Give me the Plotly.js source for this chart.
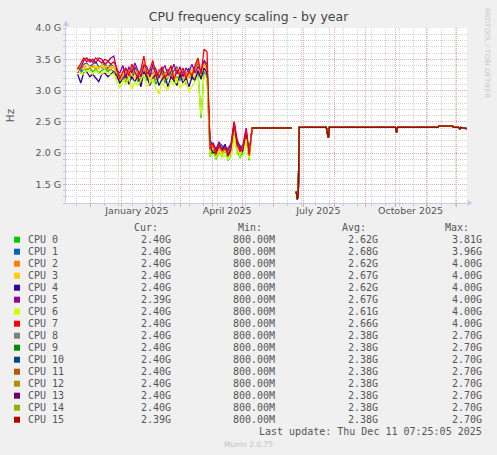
<!DOCTYPE html>
<html><head><meta charset="utf-8">
<script src="https://cdn.plot.ly/plotly-3.0.1.min.js"></script>
<style>html,body{margin:0;padding:0;background:#f0f0f0;}#chart{width:497px;height:455px;}</style>
</head><body><div id="chart"></div>
<script>
// ---------------- DATA ----------------
const cpuNames = ['CPU 0','CPU 1','CPU 2','CPU 3','CPU 4','CPU 5','CPU 6','CPU 7',
                  'CPU 8','CPU 9','CPU 10','CPU 11','CPU 12','CPU 13','CPU 14','CPU 15'];
const cpuColors = ['#00CC00','#0066B3','#FF8000','#FFCC00','#330099','#990099','#CCFF00','#FF0000',
                   '#808080','#008F00','#00487D','#B35A00','#B38F00','#6B006B','#8FB300','#B30000'];

// legend statistics
const curVals = ['2.40G','2.40G','2.40G','2.40G','2.40G','2.39G','2.40G','2.40G',
                 '2.40G','2.40G','2.40G','2.40G','2.40G','2.40G','2.40G','2.39G'];
const minVals = ['800.00M','800.00M','800.00M','800.00M','800.00M','800.00M','800.00M','800.00M',
                 '800.00M','800.00M','800.00M','800.00M','800.00M','800.00M','800.00M','800.00M'];
const avgVals = ['2.62G','2.68G','2.62G','2.67G','2.62G','2.67G','2.61G','2.66G',
                 '2.38G','2.38G','2.38G','2.38G','2.38G','2.38G','2.38G','2.38G'];
const maxVals = ['3.81G','3.96G','4.00G','4.00G','4.00G','4.00G','4.00G','4.00G',
                 '2.70G','2.70G','2.70G','2.70G','2.70G','2.70G','2.70G','2.70G'];

// x axis quarter labels
const quarterTickVals = ['2025-01-16','2025-04-16','2025-07-16','2025-10-16'];
const quarterTickText = ['January 2025','April 2025','July 2025','October 2025'];

// early period (CPUs 0-7 only), values in GHz
const earlyDates = [
 '2024-11-18','2024-11-21','2024-11-24','2024-11-27','2024-11-30',
 '2024-12-03','2024-12-06','2024-12-09','2024-12-12','2024-12-15',
 '2024-12-18','2024-12-21','2024-12-24','2024-12-27','2024-12-30',
 '2025-01-02','2025-01-05','2025-01-08','2025-01-11','2025-01-14',
 '2025-01-17','2025-01-20','2025-01-23','2025-01-26','2025-01-29',
 '2025-02-01','2025-02-04','2025-02-07','2025-02-10','2025-02-13',
 '2025-02-16','2025-02-19','2025-02-22','2025-02-25','2025-02-28',
 '2025-03-03','2025-03-06','2025-03-09','2025-03-12','2025-03-15',
 '2025-03-18','2025-03-21','2025-03-24','2025-03-27','2025-03-30',
 '2025-04-02','2025-04-05','2025-04-08','2025-04-11','2025-04-14',
 '2025-04-17','2025-04-20','2025-04-23','2025-04-26','2025-04-29',
 '2025-05-02','2025-05-05','2025-05-08'];

const cpu0Early = [3.38,3.28,3.34,3.32,3.36,3.30,3.34,3.28,3.32,3.36,3.30,3.34,3.30,3.20,3.12,
 3.24,3.14,3.26,3.18,3.30, 3.14,3.20,3.32,3.16,3.24, 3.28,3.10,3.22,3.30,3.12,
 3.20,3.28,3.14,3.22,3.16, 3.28,3.10,3.26,3.18,3.22, 3.30,2.56,3.30,3.24,
 1.94,2.06,1.90,2.02,1.96,2.08,1.88,1.96,2.30,2.02,1.92,2.04,2.24,1.88];
const cpu1Early = [3.36,3.30,3.42,3.44,3.38,3.42,3.46,3.38,3.40,3.44,3.36,3.42,3.38,3.28,3.24,
 3.22,3.34,3.30,3.20,3.38, 3.26,3.30,3.42,3.20,3.32, 3.36,3.28,3.24,3.36,3.26,
 3.34,3.22,3.32,3.38,3.20, 3.30,3.26,3.36,3.20,3.34, 3.44,3.22,3.46,3.36,
 2.22,2.10,2.04,2.16,2.12,2.02,2.08,2.14,2.44,2.18,2.12,2.06,2.36,2.00];
const cpu2Early = [3.32,3.38,3.40,3.34,3.36,3.40,3.34,3.38,3.36,3.40,3.32,3.38,3.36,3.28,3.18,
 3.24,3.30,3.18,3.36,3.26, 3.18,3.28,3.44,3.20,3.28, 3.30,3.16,3.34,3.24,3.18,
 3.30,3.24,3.16,3.36,3.22, 3.18,3.30,3.20,3.28,3.36, 3.48,3.20,3.44,3.34,
 2.04,2.12,1.96,2.06,2.02,2.12,1.94,2.02,2.46,2.08,2.04,2.10,2.30,1.94];
const cpu3Early = [3.40,3.36,3.34,3.42,3.38,3.36,3.40,3.34,3.42,3.36,3.40,3.34,3.40,3.22,3.14,
 3.28,3.16,3.30,3.24,3.20, 3.34,3.12,3.38,3.30,3.16, 3.26,3.20,3.32,3.14,3.28,
 3.20,3.38,3.22,3.14,3.32, 3.26,3.12,3.24,3.34,3.18, 3.40,3.24,3.42,3.30,
 2.00,2.08,2.00,2.14,1.96,2.04,1.98,2.08,2.40,2.14,1.98,2.12,2.32,1.92];
const cpu4Early = [3.26,3.12,3.28,3.30,3.22,3.26,3.20,3.14,3.26,3.28,3.22,3.26,3.30,3.24,3.12,
 3.18,3.26,3.10,3.22,3.14, 3.24,3.06,3.30,3.22,3.08, 3.20,3.26,3.08,3.18,3.24,
 3.06,3.22,3.16,3.08,3.26, 3.12,3.20,3.06,3.22,3.16, 3.32,3.18,3.36,3.28,
 2.10,2.00,2.02,2.12,2.06,2.14,1.96,2.06,2.48,2.12,2.08,2.02,2.34,1.98];
const cpu5Early = [3.28,3.36,3.48,3.52,3.46,3.50,3.44,3.52,3.50,3.42,3.46,3.52,3.55,3.32,3.28,
 3.40,3.20,3.38,3.28,3.44, 3.32,3.22,3.40,3.38,3.22, 3.42,3.34,3.20,3.32,3.40,
 3.24,3.30,3.42,3.26,3.38, 3.22,3.36,3.30,3.42,3.28, 3.38,3.32,3.48,3.42,
 2.12,2.16,2.06,2.18,2.04,2.10,2.04,2.16,2.50,2.22,2.06,2.14,2.40,1.98];
const cpu6Early = [3.34,3.28,3.26,3.32,3.30,3.26,3.32,3.28,3.26,3.30,3.28,3.24,3.28,3.14,3.04,
 3.16,3.10,3.22,3.02,3.14, 3.08,3.18,3.26,3.06,3.12, 3.18,3.02,2.94,3.12,3.06,
 3.00,3.16,3.08,3.20,3.04, 3.10,3.16,2.98,3.06,3.12, 3.22,2.60,3.24,3.18,
 1.96,1.98,1.92,2.04,1.92,1.96,1.90,1.94,2.28,1.98,1.94,1.96,2.22,1.90];
const cpu7Early = [3.34,3.44,3.52,3.46,3.50,3.45,3.52,3.48,3.44,3.50,3.47,3.42,3.46,3.36,3.18,
 3.30,3.36,3.24,3.42,3.30, 3.20,3.34,3.55,3.26,3.34, 3.48,3.22,3.30,3.38,3.20,
 3.28,3.40,3.18,3.32,3.26, 3.36,3.20,3.30,3.24,3.40, 3.52,3.26,3.66,3.62,
 2.06,2.14,1.98,2.12,2.04,2.08,1.98,2.10,2.50,2.16,2.02,2.10,2.38,1.96];

// late period (all CPUs read as the same line), values in GHz, null = no data
const lateDates = ['2025-05-11','2025-06-19','2025-06-20','2025-06-24','2025-06-25','2025-06-26',
 '2025-06-27','2025-07-24','2025-07-25','2025-07-26','2025-07-27','2025-09-01','2025-10-01',
 '2025-10-02','2025-10-03','2025-11-12','2025-11-13','2025-11-27','2025-11-28','2025-12-03',
 '2025-12-04','2025-12-05','2025-12-11'];
const lateVals = [2.40,2.40,null,1.38,1.26,1.32,
 2.41,2.41,2.30,2.24,2.41,2.41,2.41,
 2.33,2.41,2.41,2.43,2.43,2.41,2.41,
 2.38,2.41,2.39];

// ---------------- BUILD ----------------
const earlyVals = [cpu0Early,cpu1Early,cpu2Early,cpu3Early,cpu4Early,cpu5Early,cpu6Early,cpu7Early];
earlyVals.forEach((a,i)=>{ if(a.length!==earlyDates.length) throw new Error('cpu'+i+'Early length '+a.length); });
if (lateVals.length!==lateDates.length) throw new Error('late length');

const W=497,H=455,ML=66,MR=30,MT=28,MB=252;
const PW=W-ML-MR, PH=H-MT-MB;
const px=(x)=>(x-ML)/PW, py=(y)=>(H-MB-y)/PH;

const traces=[];
for (let i=0;i<16;i++){
  let x,y;
  if(i<8){ x=earlyDates.concat(lateDates); y=earlyVals[i].concat(lateVals); }
  else { x=lateDates; y=lateVals; }
  traces.push({type:'scatter',mode:'lines',x:x,y:y,name:cpuNames[i],
    line:{color:cpuColors[i],width:1.3},showlegend:false,hoverinfo:'skip',connectgaps:false});
}
traces.push({type:'scatter',mode:'lines',x:[],y:[],xaxis:'x2',yaxis:'y',showlegend:false,hoverinfo:'skip'});

const MONO='DejaVu Sans Mono';
const TXT='#555555';
const ann=[];
function addText(text,xpx,ypx,anchor,extra){
  ann.push(Object.assign({text:text,x:px(xpx),y:py(ypx),xref:'paper',yref:'paper',
    xanchor:anchor,yanchor:'middle',showarrow:false,borderpad:0,
    font:{family:MONO,size:10,color:TXT}},extra||{}));
}
const shapes=[];
const headY=227.7;
addText('Cur:',159,headY,'right');
addText('Min:',263,headY,'right');
addText('Avg:',367,headY,'right');
addText('Max:',470,headY,'right');
for(let i=0;i<16;i++){
  const yc=239.7+12*i;
  addText(cpuNames[i],26.5,yc,'left');
  addText(curVals[i],172,yc,'right');
  addText(minVals[i],276,yc,'right');
  addText(avgVals[i],379,yc,'right');
  addText(maxVals[i],483,yc,'right');
  shapes.push({type:'rect',xref:'paper',yref:'paper',x0:px(14),x1:px(20),y0:py(yc+3),y1:py(yc-3),
    fillcolor:cpuColors[i],line:{width:0},layer:'above'});
}
addText('Last update: Thu Dec 11 07:25:05 2025',483,431.7,'right');
addText('Munin 2.0.75',248,444.3,'center',{font:{family:'DejaVu Sans',size:7.5,color:'#c0c0c0'}});
addText('RRDTOOL / TOBI OETIKER',487,53,'center',{textangle:90,font:{family:'DejaVu Sans',size:7,color:'#c8c8c8'}});

const AX='#c8c8ec';
shapes.push({type:'path',xref:'paper',yref:'paper',
  path:'M'+px(472.5)+','+py(203)+' L'+px(467.5)+','+py(200)+' L'+px(467.5)+','+py(206)+' Z',
  fillcolor:AX,line:{width:0},layer:'above'});
shapes.push({type:'path',xref:'paper',yref:'paper',
  path:'M'+px(66)+','+py(20.5)+' L'+px(63)+','+py(26)+' L'+px(69)+','+py(26)+' Z',
  fillcolor:AX,line:{width:0},layer:'above'});
shapes.push({type:'line',xref:'paper',yref:'paper',x0:px(66),x1:px(66),y0:py(28),y1:py(25),
  line:{color:AX,width:1},layer:'above'});

const xRange=['2024-11-06 07:25:05','2025-12-11 07:25:05'];
const MAJ='#e8a8a8', MIN='#d4d4d4', DASH='1px,1px';
const layout={
  width:W,height:H,margin:{l:ML,r:MR,t:MT,b:MB,pad:0},
  paper_bgcolor:'#f0f0f0',plot_bgcolor:'#ffffff',
  font:{family:'DejaVu Sans',size:9.5,color:TXT},
  showlegend:false,
  title:{text:'CPU frequency scaling - by year',font:{family:'DejaVu Sans',size:12.5,color:'#444444'},
    x:0.5,xref:'container',xanchor:'center',y:1-17/H,yref:'container',yanchor:'middle'},
  xaxis:{type:'date',range:xRange,tick0:'2024-12-01',dtick:'M1',showticklabels:false,
    ticks:'outside',ticklen:3,tickcolor:MAJ,showgrid:true,gridcolor:MAJ,griddash:DASH,gridwidth:1,
    showline:true,linecolor:AX,linewidth:1,zeroline:false,fixedrange:true,
    minor:{tick0:'2024-11-17',dtick:14*86400000,showgrid:true,gridcolor:MIN,griddash:DASH,gridwidth:1,
      ticks:'outside',ticklen:2,tickcolor:'#c8c8c8'}},
  xaxis2:{type:'date',range:xRange,overlaying:'x',anchor:'y',side:'bottom',tickmode:'array',
    tickvals:quarterTickVals,ticktext:quarterTickText,showgrid:false,ticks:'',showline:false,zeroline:false,
    tickfont:{family:'DejaVu Sans',size:9.5,color:TXT},fixedrange:true},
  yaxis:{range:[1.2,4.0],tick0:0,dtick:0.5,tickformat:'.1f',ticksuffix:' G',
    ticks:'outside',ticklen:2,tickcolor:MAJ,showgrid:true,gridcolor:MAJ,griddash:DASH,gridwidth:1,
    showline:true,linecolor:AX,linewidth:1,zeroline:false,fixedrange:true,
    tickfont:{family:'DejaVu Sans',size:9.5,color:TXT},
    minor:{dtick:0.1,showgrid:true,gridcolor:MIN,griddash:DASH,gridwidth:1,ticks:'outside',ticklen:2,tickcolor:'#c8c8c8'},
    title:{text:'Hz',font:{family:'DejaVu Sans',size:10.5,color:TXT},standoff:18}},
  annotations:ann,
  shapes:shapes
};
Plotly.newPlot('chart',traces,layout,{staticPlot:true,displayModeBar:false});
</script></body></html>
